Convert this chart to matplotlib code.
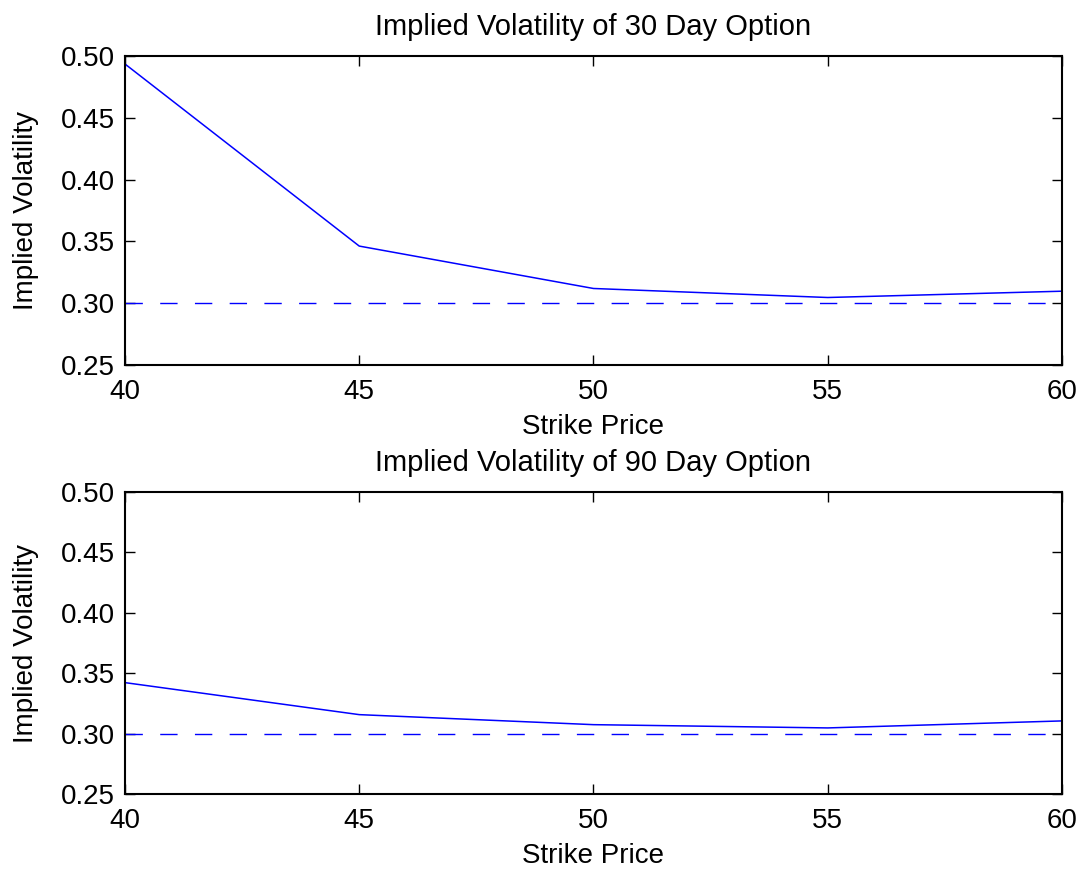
import numpy as np
import matplotlib.pyplot as plt

plt.rcParams['font.family'] = ['Liberation Sans', 'DejaVu Sans']

strike = [40, 45, 50, 55, 60]
vol_30 = [0.4935, 0.3462, 0.3119, 0.3046, 0.3097]
vol_90 = [0.3422, 0.3157, 0.3074, 0.3047, 0.3105]
true_vol = 0.30
yticks = [0.25, 0.30, 0.35, 0.40, 0.45, 0.50]
titles = ['Implied Volatility of 30 Day Option', 'Implied Volatility of 90 Day Option']

fig = plt.figure(figsize=(10.84, 8.73), dpi=100)
ax1 = fig.add_axes([0.1153, 0.5819, 0.8644, 0.354])
ax2 = fig.add_axes([0.1153, 0.0905, 0.8644, 0.3459])

for ax, vol, title in zip([ax1, ax2], [vol_30, vol_90], titles):
    ax.plot(strike, vol, color='blue', lw=1.1)
    ax.plot([strike[0], strike[-1]], [true_vol, true_vol], color='blue', lw=1.0,
            dashes=(12.5, 12.5))
    ax.set_xlim(40, 60)
    ax.set_ylim(0.25, 0.50)
    ax.set_xticks(strike)
    ax.set_yticks(yticks)
    ax.set_yticklabels(['%.2f' % v for v in yticks])
    ax.tick_params(direction='in', length=7, width=1, top=True, right=True,
                   labelsize=20)
    ax.tick_params(axis='x', pad=10)
    ax.tick_params(axis='y', pad=7)
    for s in ax.spines.values():
        s.set_linewidth(1.5)
    ax.set_xlabel('Strike Price', fontsize=20, labelpad=6.5)
    ax.set_ylabel('Implied Volatility', fontsize=20, labelpad=16)
    ax.set_title(title, fontsize=21, pad=15)

fig.savefig('out.png', dpi=100)
